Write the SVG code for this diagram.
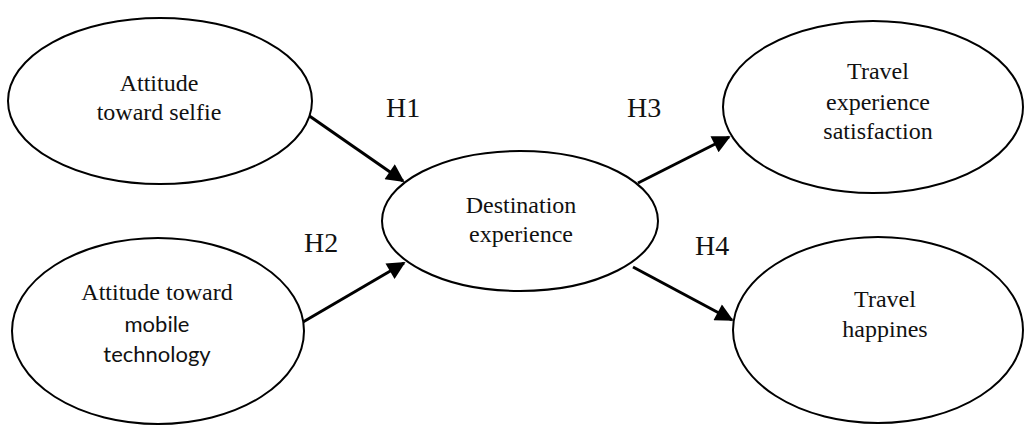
<svg xmlns="http://www.w3.org/2000/svg" width="1024" height="425" viewBox="0 0 1024 425">
<style>
.node{fill:#fff;stroke:#000;stroke-width:2}
.t{font-family:"Liberation Serif","Times New Roman",serif;font-size:24px;fill:#111;text-anchor:middle}
.s{font-family:Lato,"Open Sans",sans-serif;font-size:22px;fill:#111;text-anchor:middle}
.h{font-family:"Liberation Serif","Times New Roman",serif;font-size:28px;fill:#111}
.edge{stroke:#000;stroke-width:3;fill:none;marker-end:url(#arr)}
</style>
<defs>
<marker id="arr" viewBox="0 0 10 10" refX="9" refY="5" markerWidth="7" markerHeight="6" orient="auto" markerUnits="strokeWidth">
<path d="M0,0 L10,5 L0,10 z" fill="#000"/>
</marker>
</defs>
<rect width="1024" height="425" fill="#fff"/>
<g id="connectors">
<line class="edge" x1="308" y1="115" x2="403" y2="181"/>
<line class="edge" x1="303" y1="322" x2="404" y2="263"/>
<line class="edge" x1="638" y1="183" x2="729" y2="137"/>
<line class="edge" x1="633" y1="267" x2="732" y2="320"/>
</g>
<g id="node-selfie">
<ellipse class="node" cx="160" cy="101" rx="152" ry="83"/>
<text class="t" x="159" y="91">Attitude</text>
<text class="t" x="159" y="120">toward selfie</text>
</g>
<g id="node-mobile">
<ellipse class="node" cx="158" cy="331" rx="146" ry="93"/>
<text class="t" x="157" y="300">Attitude toward</text>
<text class="s" x="157" y="332">mobile</text>
<text class="s" x="157" y="362">technology</text>
</g>
<g id="node-destination">
<ellipse class="node" cx="520" cy="221" rx="138" ry="70"/>
<text class="t" x="521" y="213">Destination</text>
<text class="t" x="521" y="242">experience</text>
</g>
<g id="node-satisfaction">
<ellipse class="node" cx="873" cy="107" rx="150" ry="86"/>
<text class="t" x="878" y="79">Travel</text>
<text class="t" x="878" y="110">experience</text>
<text class="t" x="878" y="139">satisfaction</text>
</g>
<g id="node-happiness">
<ellipse class="node" cx="878" cy="330" rx="145" ry="93"/>
<text class="t" x="885" y="307">Travel</text>
<text class="t" x="885" y="337">happines</text>
</g>
<g id="labels">
<text class="h" x="386" y="117">H1</text>
<text class="h" x="304" y="252">H2</text>
<text class="h" x="627" y="117">H3</text>
<text class="h" x="695" y="255">H4</text>
</g>
</svg>
